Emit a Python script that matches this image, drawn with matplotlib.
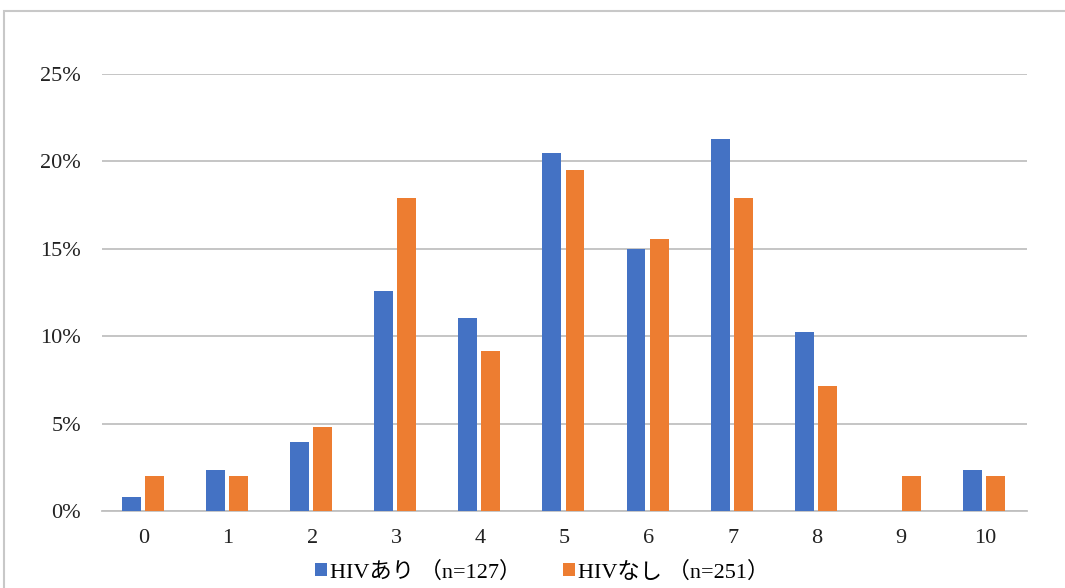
import matplotlib
matplotlib.use("Agg")
import matplotlib.pyplot as plt
from matplotlib.patches import Rectangle
from matplotlib.ticker import FuncFormatter
import numpy as np

plt.rcParams['font.family'] = ['Liberation Serif', 'Noto Sans CJK JP', 'DejaVu Sans']

# 点数ごとの割合
scores = list(range(11))
hiv_pos = [1/127, 3/127, 5/127, 16/127, 14/127, 26/127, 19/127, 27/127, 13/127, 0, 3/127]
hiv_neg = [5/251, 5/251, 12/251, 45/251, 23/251, 49/251, 39/251, 45/251, 18/251, 5/251, 5/251]
labels = ['HIVあり （n=127）', 'HIVなし （n=251）']
colors = ['#4472C4', '#ED7D31']

W, H = 1065, 588
fig = plt.figure(figsize=(W / 100, H / 100), dpi=100)

# 外枠（右と下ははみ出している）
fig.patches.append(Rectangle((4 / W, -0.1), 1.2, 1 - 11 / H + 0.1, transform=fig.transFigure,
                             fill=False, edgecolor='#C8C8C8', linewidth=1.5))

ax = fig.add_axes([102 / W, 1 - 511 / H, (1027 - 102) / W, (511 - 74) / H])
x = np.arange(len(scores))
w = 0.225
ax.bar(x - 0.15, hiv_pos, width=w, color=colors[0], label=labels[0], zorder=3)
ax.bar(x + 0.125, hiv_neg, width=w, color=colors[1], label=labels[1], zorder=3)

ax.set_xlim(-0.5, 10.5)
ax.set_ylim(0, 0.25)
ax.set_yticks(np.arange(0, 0.26, 0.05))
ax.yaxis.set_major_formatter(FuncFormatter(lambda v, p: f"{v * 100:.0f}%"))
ax.set_xticks(x)
ax.set_xticklabels([str(s) for s in scores])
ax.grid(axis='y', color='#C0C0C0', linewidth=1.3, zorder=0)
for s in ['top', 'right', 'left']:
    ax.spines[s].set_visible(False)
ax.spines['bottom'].set_color('#C0C0C0')
ax.spines['bottom'].set_linewidth(1.3)
ax.tick_params(length=0, labelsize=16, colors='#222222')
ax.tick_params(axis='y', pad=15)
ax.tick_params(axis='x', pad=13)

ax.legend(loc='center', bbox_to_anchor=(542 / W, 1 - 572 / H), bbox_transform=fig.transFigure,
          ncol=2, frameon=False, fontsize=16, handlelength=0.55, handleheight=0.55,
          handletextpad=0.1, columnspacing=1.9, borderpad=0)

fig.savefig('out.png', dpi=100)
